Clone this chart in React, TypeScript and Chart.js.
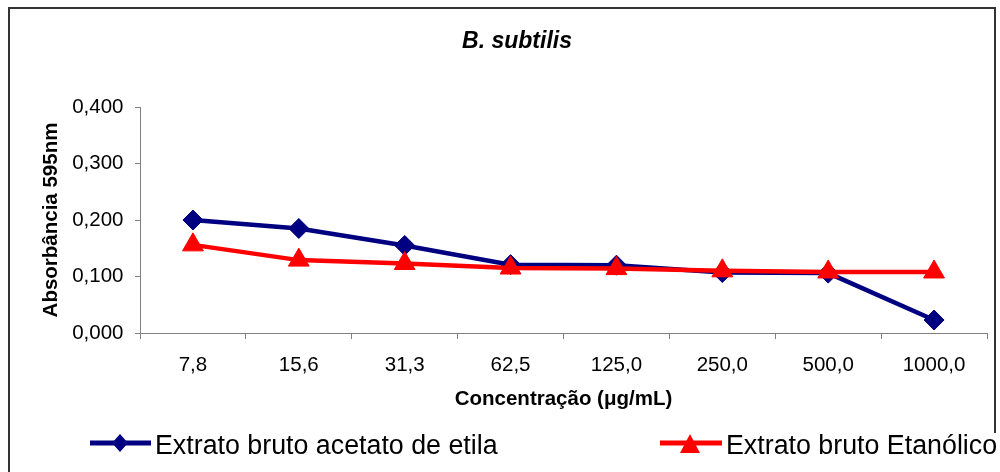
import React, { useEffect, useRef } from 'react';
import { Chart, registerables } from 'chart.js';

Chart.register(...registerables);

const categories = ['7,8', '15,6', '31,3', '62,5', '125,0', '250,0', '500,0', '1000,0'];
const acetatoValues = [0.2, 0.185, 0.155, 0.121, 0.12, 0.107, 0.106, 0.023];
const etanolicoValues = [0.156, 0.129, 0.123, 0.115, 0.114, 0.11, 0.108, 0.108];
const yTicks = [0, 0.1, 0.2, 0.3, 0.4];
const seriesNames = ['Extrato bruto acetato de etila', 'Extrato bruto Etanólico'];
const chartTitle = 'B. subtilis';
const xTitle = 'Concentração (μg/mL)';
const yTitle = 'Absorbância 595nm';

const FONT = "'Liberation Sans', Arial, Helvetica, sans-serif";
const NAVY = '#000080';
const RED = '#FF0000';

const framePlugin = {
  id: 'frame',
  beforeDraw(chart: any) {
    const ctx = chart.ctx;
    ctx.save();
    ctx.fillStyle = '#ffffff';
    ctx.fillRect(0, 0, chart.width, chart.height);
    ctx.strokeStyle = '#333333';
    ctx.lineWidth = 2;
    ctx.beginPath();
    ctx.moveTo(8, 8);
    ctx.lineTo(996, 8);
    ctx.moveTo(9, 7);
    ctx.lineTo(9, 472);
    ctx.moveTo(995, 7);
    ctx.lineTo(995, 433);
    ctx.stroke();
    ctx.restore();
  },
};

const titlePlugin = {
  id: 'customTitle',
  afterDraw(chart: any) {
    const ctx = chart.ctx;
    ctx.save();
    ctx.fillStyle = '#000';
    ctx.font = `italic bold 23px ${FONT}`;
    ctx.textAlign = 'center';
    ctx.textBaseline = 'alphabetic';
    ctx.fillText(chartTitle, 517, 47.5);
    ctx.restore();
  },
};

function drawDiamond(ctx: CanvasRenderingContext2D, x: number, y: number, rx: number, ry: number, color: string) {
  ctx.beginPath();
  ctx.moveTo(x - rx, y);
  ctx.lineTo(x, y - ry);
  ctx.lineTo(x + rx, y);
  ctx.lineTo(x, y + ry);
  ctx.closePath();
  ctx.fillStyle = color;
  ctx.fill();
}

function drawTriangle(ctx: CanvasRenderingContext2D, x: number, top: number, bottom: number, hw: number, color: string) {
  ctx.beginPath();
  ctx.moveTo(x, top);
  ctx.lineTo(x + hw, bottom);
  ctx.lineTo(x - hw, bottom);
  ctx.closePath();
  ctx.fillStyle = color;
  ctx.fill();
}

const legendPlugin = {
  id: 'customLegend',
  afterDraw(chart: any) {
    const ctx = chart.ctx;
    const ds = chart.data.datasets;
    const y = 443;
    ctx.save();
    ctx.lineCap = 'butt';
    ctx.strokeStyle = ds[0].borderColor;
    ctx.lineWidth = 5;
    ctx.beginPath();
    ctx.moveTo(90, y);
    ctx.lineTo(151, y);
    ctx.stroke();
    drawDiamond(ctx, 120, y, 8, 9, ds[0].backgroundColor);
    ctx.strokeStyle = ds[1].borderColor;
    ctx.beginPath();
    ctx.moveTo(660, y);
    ctx.lineTo(722, y);
    ctx.stroke();
    drawTriangle(ctx, 690, 434, 453, 10, ds[1].backgroundColor);

    ctx.fillStyle = '#000';
    ctx.font = `26.8px ${FONT}`;
    ctx.textAlign = 'left';
    ctx.textBaseline = 'alphabetic';
    ctx.fillText(ds[0].label, 155, 453.5);
    ctx.fillText(ds[1].label, 726, 453.5);
    ctx.restore();
  },
};

export default function App() {
  const canvasRef = useRef<HTMLCanvasElement | null>(null);

  useEffect(() => {
    if (!canvasRef.current) return;
    Chart.defaults.font.family = FONT;
    Chart.defaults.color = '#000';
    const chart = new Chart(canvasRef.current, {
      type: 'line',
      data: {
        labels: categories,
        datasets: [
          {
            label: seriesNames[0],
            data: acetatoValues,
            borderColor: NAVY,
            backgroundColor: NAVY,
            borderWidth: 4.5,
            pointStyle: 'rectRot',
            pointRadius: 10,
            pointBorderWidth: 1,
            pointBackgroundColor: NAVY,
            pointBorderColor: NAVY,
            tension: 0,
            order: 2,
          },
          {
            label: seriesNames[1],
            data: etanolicoValues,
            borderColor: RED,
            backgroundColor: RED,
            borderWidth: 4.5,
            pointStyle: 'triangle',
            pointRadius: 12,
            pointBorderWidth: 1,
            pointBackgroundColor: RED,
            pointBorderColor: RED,
            tension: 0,
            order: 1,
          },
        ],
      },
      options: {
        animation: false,
        responsive: false,
        maintainAspectRatio: false,
        events: [],
        layout: { padding: { left: 38, top: 107, right: 8, bottom: 59 } },
        plugins: {
          legend: { display: false },
          title: { display: false },
          tooltip: { enabled: false },
        },
        scales: {
          x: {
            type: 'category',
            offset: true,
            grid: {
              offset: true,
              drawOnChartArea: false,
              drawTicks: true,
              tickLength: 6,
              color: '#808080',
              lineWidth: 1,
            },
            border: { color: '#808080', width: 1 },
            ticks: {
              font: { size: 20.5 },
              padding: 14,
              maxRotation: 0,
              autoSkip: false,
              color: '#000',
            },
            title: {
              display: true,
              text: xTitle,
              font: { size: 20.5, weight: 'bold' },
              padding: { top: 0, bottom: 1 },
              color: '#000',
            },
            afterFit: (s: any) => {
              s.height = 80;
            },
          },
          y: {
            min: 0,
            max: 0.4,
            grid: {
              drawOnChartArea: false,
              drawTicks: true,
              tickLength: 5,
              color: '#808080',
              lineWidth: 1,
            },
            border: { color: '#808080', width: 1 },
            afterBuildTicks: (s: any) => {
              s.ticks = yTicks.map((v) => ({ value: v }));
            },
            ticks: {
              font: { size: 20.5 },
              padding: 11.5,
              color: '#000',
              callback: (v: any) => Number(v).toFixed(3).replace('.', ','),
            },
            title: {
              display: true,
              text: yTitle,
              font: { size: 20.5, weight: 'bold' },
              padding: { top: 1, bottom: 0 },
              color: '#000',
            },
            afterFit: (s: any) => {
              s.width = 102;
            },
          },
        },
      },
      plugins: [framePlugin, titlePlugin, legendPlugin],
    });
    return () => chart.destroy();
  }, []);

  return (
    <div style={{ position: 'absolute', left: 0, top: 0, width: 1000, height: 472 }}>
      <canvas ref={canvasRef} width={1000} height={472} style={{ display: 'block' }} />
    </div>
  );
}
